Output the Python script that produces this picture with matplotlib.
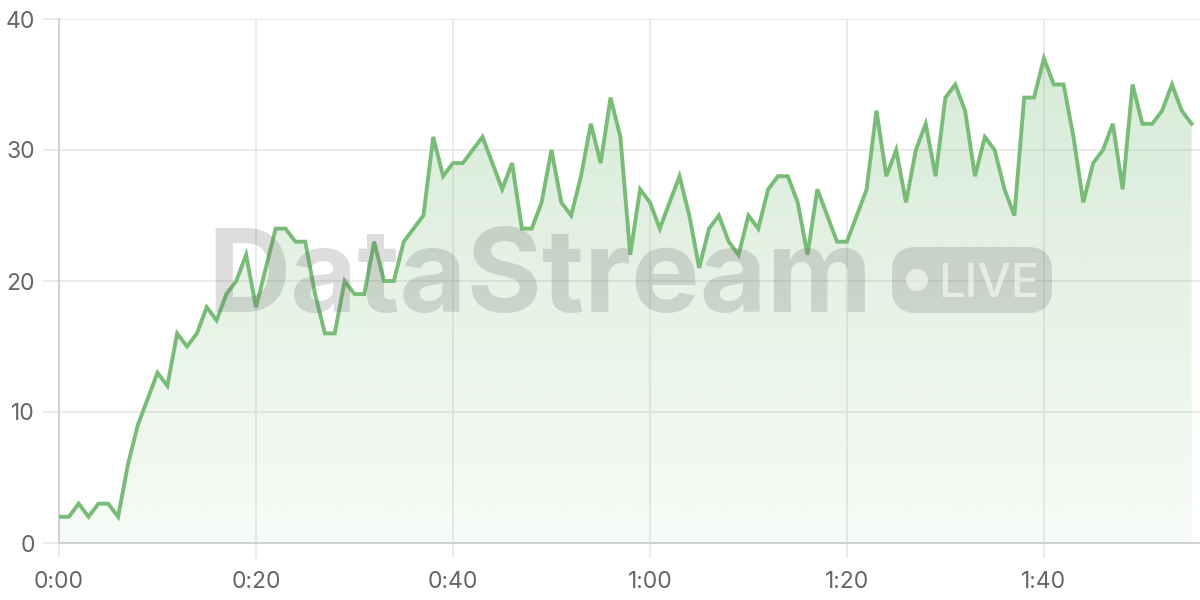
import numpy as np
import matplotlib
matplotlib.use("Agg")
import matplotlib.pyplot as plt
from matplotlib.patches import FancyBboxPatch, Ellipse

# one value per second, 0:00 .. 1:55
values = [2, 2, 3, 2, 3, 3, 2, 6, 9, 11, 13, 12, 16, 15, 16, 18, 17, 19, 20, 22,
          18, 21, 24, 24, 23, 23, 19, 16, 16, 20, 19, 19, 23, 20, 20, 23, 24, 25, 31, 28,
          29, 29, 30, 31, 29, 27, 29, 24, 24, 26, 30, 26, 25, 28, 32, 29, 34, 31, 22, 27,
          26, 24, 26, 28, 25, 21, 24, 25, 23, 22, 25, 24, 27, 28, 28, 26, 22, 27, 25, 23,
          23, 25, 27, 33, 28, 30, 26, 30, 32, 28, 34, 35, 33, 28, 31, 30, 27, 25, 34, 34,
          37, 35, 35, 31, 26, 29, 30, 32, 27, 35, 32, 32, 33, 35, 33, 32]
seconds = np.arange(len(values))
x_ticks = [0, 20, 40, 60, 80, 100]
x_labels = ["0:00", "0:20", "0:40", "1:00", "1:20", "1:40"]
y_ticks = [0, 10, 20, 30, 40]

line_color = "#78bc78"
grid_color = "#e6e6e6"
axis_color = "#d2d2d2"
text_color = "#666666"

plt.rcParams['font.family'] = ['Inter', 'DejaVu Sans']

fig = plt.figure(figsize=(12, 6), dpi=100)
ax = fig.add_axes([59 / 1200, 1 - 543 / 600, 1141 / 1200, 524 / 600])

ax.set_xlim(0, 115.85)
ax.set_ylim(0, 40)

# gradient fill under the line, clipped to the area
grad = np.zeros((200, 2, 4))
rgb = matplotlib.colors.to_rgb(line_color)
grad[:, :, 0], grad[:, :, 1], grad[:, :, 2] = rgb
grad[:, :, 3] = np.linspace(0.06, 0.32, 200)[:, None]
area = ax.fill_between(seconds, values, 0, color="none", lw=0)
img = ax.imshow(grad, extent=[0, seconds[-1], 0, 40], origin="lower",
                aspect="auto", zorder=1, interpolation="bilinear")
img.set_clip_path(area.get_paths()[0], ax.transData)

ax.plot(seconds, values, color=line_color, lw=2.8, zorder=4,
        solid_joinstyle="miter")

# grid and axes
ax.set_xticks(x_ticks, x_labels)
ax.set_yticks(y_ticks)
ax.grid(True, color=grid_color, lw=1.1, zorder=0)
ax.set_axisbelow(True)
for side in ["top", "right"]:
    ax.spines[side].set_visible(False)
for side in ["left", "bottom"]:
    ax.spines[side].set_color(axis_color)
    ax.spines[side].set_linewidth(1.4)
ax.tick_params(axis="y", length=11.5, width=1.1, color=grid_color, pad=6,
               labelsize=16.5, labelcolor=text_color)
ax.tick_params(axis="x", length=11, width=1.1, color=grid_color, pad=9,
               labelsize=16.5, labelcolor=text_color)

# watermark
wm = dict(color="#666666", alpha=0.22)
fig.text(207 / 1200, 1 - 312 / 600, "DataStream", fontsize=83, fontweight="bold",
         ha="left", va="baseline", zorder=3, **wm)
badge = FancyBboxPatch((892 / 1200, 1 - 313 / 600), 160 / 1200, 66 / 600,
                       boxstyle="round,pad=0,rounding_size=0.02",
                       transform=fig.transFigure, lw=0, zorder=3,
                       mutation_aspect=2, **wm)
fig.add_artist(badge)
dot = Ellipse((917 / 1200, 1 - 280 / 600), 22 / 1200, 22 / 600,
              transform=fig.transFigure, color="white", alpha=0.55, lw=0, zorder=3)
fig.add_artist(dot)
fig.text(938 / 1200, 1 - 297 / 600, "LIVE", fontsize=34, fontweight="medium",
         color="white", alpha=0.55, ha="left", va="baseline", zorder=3)

fig.savefig("out.png", dpi=100)
